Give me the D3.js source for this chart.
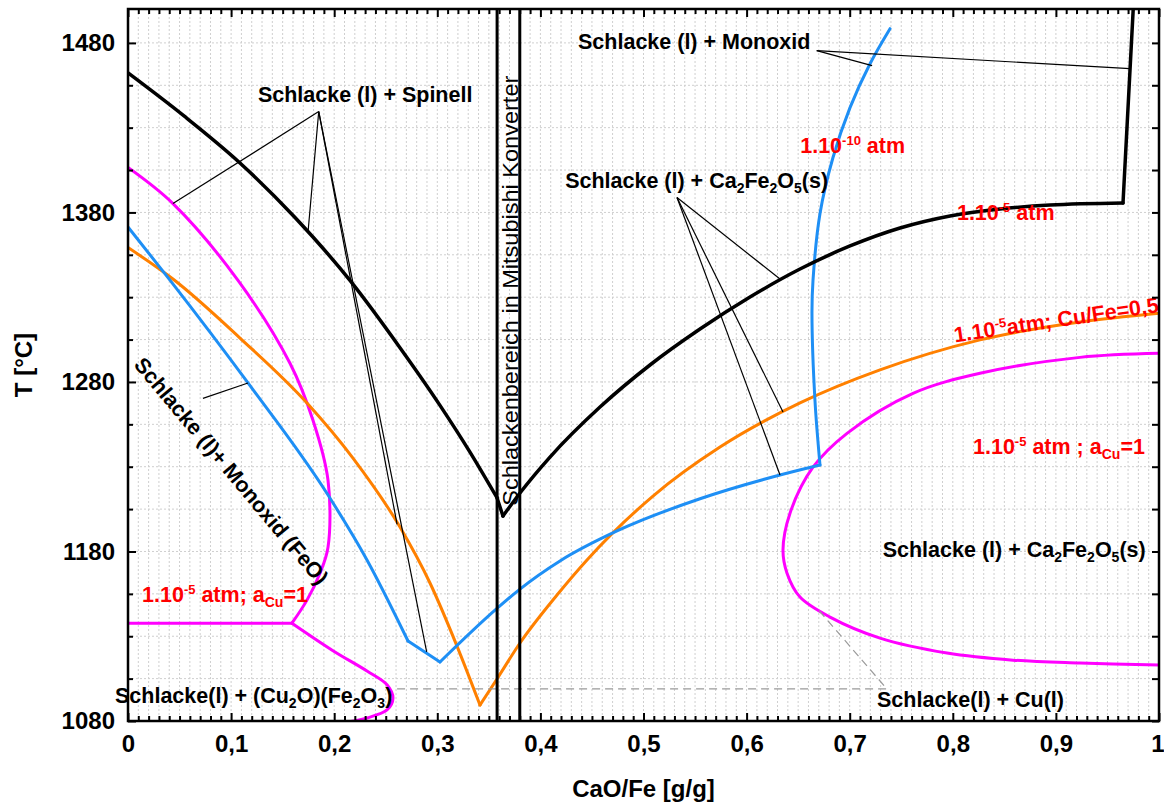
<!DOCTYPE html>
<html>
<head>
<meta charset="utf-8">
<script src="https://cdn.jsdelivr.net/npm/d3@7"></script>
<style>
  body { margin: 0; background: #fff; }
  svg { display: block; }
  text { font-family: "Liberation Sans", Arial, sans-serif; white-space: pre; }
</style>
</head>
<body>
<svg id="chart" width="1164" height="804"></svg>
<script>
// ---- Axis ticks ----
const xTickValues = [0, 0.1, 0.2, 0.3, 0.4, 0.5, 0.6, 0.7, 0.8, 0.9, 1];
const yTickValues = [1080, 1180, 1280, 1380, 1480];

// ---- Liquidus at pO2 = 1e-5 atm (black) : [CaO/Fe, T] ----
const liquidusLeft = [[0, 1462.3], [0.0543, 1436.9], [0.1086, 1409.2], [0.162, 1377], [0.2153, 1339.9],
  [0.2638, 1300.2], [0.3026, 1266.2], [0.3317, 1238.6], [0.3579, 1211.7]];
const liquidusCusp = [[0.3579, 1211.7], [0.3637, 1200.9]];
const liquidusRight = [[0.3637, 1200.9], [0.3802, 1214.5], [0.4093, 1235.7], [0.4578, 1265.2], [0.5063, 1290],
  [0.5548, 1311.2], [0.6033, 1330.1], [0.6518, 1346.6], [0.7003, 1360.2], [0.7488, 1370.8],
  [0.7973, 1377.9], [0.8458, 1382], [0.8943, 1384.4], [0.9651, 1385.6]];
const liquidusWall = [[0.9651, 1385.6], [0.975, 1500]];

// ---- Liquidus at pO2 = 1e-10 atm (blue) ----
const blueLeft = [[0, 1371.4], [0.0407, 1340.1], [0.1164, 1279.4], [0.194, 1213.3], [0.2318, 1175],
  [0.2716, 1127.2]];
const blueKink = [[0.2716, 1127.2], [0.3026, 1114.8]];
const blueRight = [[0.3026, 1114.8], [0.3579, 1146.4], [0.3802, 1157.8], [0.419, 1174.4], [0.4743, 1192.1],
  [0.5548, 1211.1], [0.6324, 1225.1], [0.6712, 1231]];
const blueUp = [[0.6712, 1231], [0.6663, 1269.2], [0.6634, 1320.4], [0.6644, 1339.9], [0.6712, 1379.4],
  [0.6838, 1412.4], [0.7003, 1441.8], [0.7197, 1467.7], [0.7391, 1488.4]];

// ---- Liquidus at 1e-5 atm, Cu/Fe = 0,5 (orange) ----
const orangeLeft = [[0, 1359.3], [0.0436, 1340.7], [0.1086, 1305.9], [0.1736, 1267.6], [0.2182, 1235.1],
  [0.2638, 1194.4], [0.2929, 1161.4], [0.3191, 1124.2], [0.3414, 1089.4]];
const orangeRight = [[0.3414, 1089.4], [0.3579, 1104.8], [0.3802, 1126], [0.4161, 1154.3], [0.4452, 1175],
  [0.5092, 1212.7], [0.5742, 1241.6], [0.6518, 1267.6], [0.7294, 1287.1], [0.8264, 1304.8],
  [0.9234, 1315.4], [1.0, 1320.6]];

// ---- Liquidus at 1e-5 atm, a(Cu) = 1 (magenta) ----
const magentaUpper = [[0, 1406.5], [0.0436, 1385.2], [0.1067, 1339.9], [0.1571, 1291], [0.1794, 1257.4],
  [0.194, 1222], [0.194, 1182.5], [0.1862, 1167.2], [0.1736, 1151.3], [0.159, 1137.7]];
const magentaFlat = [[0, 1137.7], [0.159, 1137.7]];
const magentaLobe = [[0.159, 1137.7], [0.1988, 1121.5], [0.2318, 1109.5], [0.2512, 1101.4], [0.257, 1093.5],
  [0.2512, 1086.5], [0.2318, 1081.8], [0.2134, 1079.4]];
const magentaRight = [[1.0, 1296.9], [0.9234, 1294.5], [0.8264, 1285.1], [0.7614, 1273.3], [0.6974, 1249.7],
  [0.6644, 1229.7], [0.6421, 1202.6], [0.6353, 1180.8], [0.6392, 1167.2], [0.6518, 1153.1], [0.6809, 1141.3],
  [0.7294, 1128.9], [0.7944, 1120.1], [0.8584, 1115.9], [0.9234, 1114.2], [1.0, 1113]];

// ---- Slag window of the Mitsubishi converter (CaO/Fe) ----
const slagWindow = [0.358, 0.38];

// ---- Leader lines: first point is the hub, the rest are targets ----
const leaderSpinell = [[0.185, 1439.5], [0.0436, 1385.2], [0.1746, 1368.3], [0.261, 1196], [0.2897, 1120.8]];
const leaderMonoxid = [[0.668, 1475.4], [0.7217, 1466.6], [0.9718, 1464.8]];
const leaderCa2Fe2O5 = [[0.5325, 1388.8], [0.6324, 1340.7], [0.6353, 1262.3], [0.6324, 1225.1]];
const leaderFeO = [[0.0727, 1270.3], [0.1164, 1279.4]];
const leaderCu = [[0.261, 1099], [0.736, 1099], [0.669, 1146]];

// ---- Layout ----
const plot = { left: 128, top: 9, right: 1159, bottom: 721 };
const svg = d3.select("#chart");

const x = d3.scaleLinear().domain([0, 1]).range([plot.left, plot.right]);
const y = d3.scaleLinear().domain([1080, 1500]).range([plot.bottom, plot.top]);

const minorX = d3.range(0, 101).map(i => i / 100).filter(v => Math.round(v * 100) % 10 !== 0);
const allY = d3.range(1080, 1501, 25);
const minorY = allY.filter(v => !yTickValues.includes(v));

svg.append("defs").append("clipPath").attr("id", "plotClip")
  .append("rect").attr("x", plot.left).attr("y", plot.top)
  .attr("width", plot.right - plot.left).attr("height", plot.bottom - plot.top);

// ---- Grid ----
const grid = svg.append("g").attr("stroke", "#cfcfcf").attr("stroke-width", 1).attr("stroke-dasharray", "2,2");
grid.selectAll("line.gx").data(d3.range(1, 100).map(i => i / 100)).join("line")
  .attr("x1", d => x(d)).attr("x2", d => x(d)).attr("y1", plot.top).attr("y2", plot.bottom);
grid.selectAll("line.gy").data(allY.filter(v => v > 1080 && v < 1500)).join("line")
  .attr("x1", plot.left).attr("x2", plot.right).attr("y1", d => y(d)).attr("y2", d => y(d));

// ---- Curves ----
const smooth = d3.line().x(d => x(d[0])).y(d => y(d[1])).curve(d3.curveMonotoneX);
const loop = d3.line().x(d => x(d[0])).y(d => y(d[1])).curve(d3.curveCatmullRom.alpha(0.5));
const straight = d3.line().x(d => x(d[0])).y(d => y(d[1]));
const curves = svg.append("g").attr("clip-path", "url(#plotClip)").attr("fill", "none")
  .attr("stroke-linecap", "round").attr("stroke-linejoin", "round");

function drawCurve(data, color, width, gen) {
  curves.append("path").attr("d", gen(data)).attr("stroke", color).attr("stroke-width", width);
}

const MAGENTA = "#ff00ff", ORANGE = "#ff8000", BLUE = "#1e8ff5", BLACK = "#000";
[magentaUpper, magentaLobe, magentaRight].forEach(s => drawCurve(s, MAGENTA, 3, loop));
drawCurve(magentaFlat, MAGENTA, 3, straight);
[orangeLeft, orangeRight].forEach(s => drawCurve(s, ORANGE, 3, smooth));
[blueLeft, blueRight].forEach(s => drawCurve(s, BLUE, 3, smooth));
drawCurve(blueUp, BLUE, 3, loop);
drawCurve(blueKink, BLUE, 3, straight);
[liquidusLeft, liquidusRight].forEach(s => drawCurve(s, BLACK, 3.5, smooth));
[liquidusCusp, liquidusWall].forEach(s => drawCurve(s, BLACK, 3.5, straight));

// ---- Leader lines ----
const leaders = svg.append("g").attr("stroke", "#000").attr("stroke-width", 1.2);
[leaderSpinell, leaderMonoxid, leaderCa2Fe2O5].forEach(set => {
  const hub = set[0];
  set.slice(1).forEach(t => {
    leaders.append("line").attr("x1", x(hub[0])).attr("y1", y(hub[1]))
      .attr("x2", x(t[0])).attr("y2", y(t[1]));
  });
});
leaders.append("path").attr("d", straight(leaderFeO)).attr("fill", "none");
svg.append("path").attr("d", straight(leaderCu)).attr("fill", "none")
  .attr("stroke", "#9a9a9a").attr("stroke-width", 1.2).attr("stroke-dasharray", "8,5");

// ---- Slag window lines ----
svg.append("g").selectAll("line").data(slagWindow).join("line")
  .attr("x1", d => x(d)).attr("x2", d => x(d)).attr("y1", plot.top).attr("y2", plot.bottom)
  .attr("stroke", "#000").attr("stroke-width", 3);
svg.append("text")
  .attr("transform", `translate(${x(slagWindow[1]) - 2},${y(1207)}) rotate(-90)`)
  .attr("font-size", 22).attr("textLength", 430).attr("lengthAdjust", "spacingAndGlyphs")
  .attr("fill", "#000").text("Schlackenbereich in Mitsubishi Konverter");

// ---- Annotations ----
function rich(textSel, parts, base) {
  let shift = 0;
  parts.forEach(([t, kind]) => {
    const target = kind === "sub" ? 5 : kind === "sup" ? -8 : 0;
    const size = kind === "sub" ? 14 : kind === "sup" ? 13 : base;
    textSel.append("tspan").attr("dy", target - shift).attr("font-size", size).text(t);
    shift = target;
  });
}
const RED = "#ff0000";
const ca2fe2o5 = [["Schlacke (l) + Ca"], ["2", "sub"], ["Fe"], ["2", "sub"], ["O"], ["5", "sub"], ["(s)"]];
const annotations = [
  { at: [0.126, 1445.4], parts: [["Schlacke (l) + Spinell"]], fill: "#000" },
  { at: [0.4365, 1476.6], parts: [["Schlacke (l) + Monoxid"]], fill: "#000" },
  { at: [0.424, 1394.7], parts: ca2fe2o5, fill: "#000" },
  { at: [0.732, 1176.6], parts: ca2fe2o5, fill: "#000" },
  { at: [-0.0126, 1090.6], parts: [["Schlacke(l) + (Cu"], ["2", "sub"], ["O)(Fe"], ["2", "sub"], ["O"], ["3", "sub"], [")"]], fill: "#000" },
  { at: [0.7265, 1088], parts: [["Schlacke(l) + Cu(l)"]], fill: "#000" },
  { at: [0.00485, 1289.8], parts: [["Schlacke (l)+ Monoxid (FeO)"]], fill: "#000", rotate: 50 },
  { at: [0.652, 1415], parts: [["1.10"], ["-10", "sup"], [" atm"]], fill: RED },
  { at: [0.804, 1375.5], parts: [["1.10"], ["-5", "sup"], [" atm"]], fill: RED },
  { at: [0.8196, 1237.5], parts: [["1.10"], ["-5", "sup"], [" atm ; a"], ["Cu", "sub"], ["=1"]], fill: RED },
  { at: [0.0136, 1150], parts: [["1.10"], ["-5", "sup"], [" atm; a"], ["Cu", "sub"], ["=1"]], fill: RED },
  { at: [0.8021, 1303.3], parts: [["1.10"], ["-5", "sup"], ["atm; Cu/Fe=0,5"]], fill: RED, rotate: -8.5 },
];
const annG = svg.append("g").attr("font-weight", "bold");
annotations.forEach(a => {
  const t = annG.append("text")
    .attr("transform", `translate(${x(a.at[0])},${y(a.at[1])})` + (a.rotate ? ` rotate(${a.rotate})` : ""))
    .attr("fill", a.fill).attr("font-size", 21.5);
  rich(t, a.parts, 21.5);
});

// ---- Axes ----
const fmt = d => (d === 0 || d === 1) ? String(d) : d.toFixed(1).replace(".", ",");
function styleAxis(g) {
  g.select(".domain").remove();
  g.selectAll(".tick line").attr("stroke", "#000").attr("stroke-width", 2);
  g.selectAll("text").attr("font-size", 24).attr("font-weight", "bold").attr("fill", "#000")
    .attr("font-family", "Liberation Sans, Arial, sans-serif");
}
const xAxisG = svg.append("g").attr("transform", `translate(0,${plot.bottom})`)
  .call(d3.axisBottom(x).tickValues(xTickValues).tickSize(-8).tickPadding(14).tickFormat(fmt)).call(styleAxis);
// keep the last label inside the canvas
xAxisG.selectAll(".tick text").filter(d => d === 1).attr("text-anchor", "end").attr("x", 5);
svg.append("g").attr("transform", `translate(0,${plot.bottom})`)
  .call(d3.axisBottom(x).tickValues(minorX).tickSize(-5).tickFormat("")).call(styleAxis);
svg.append("g").attr("transform", `translate(0,${plot.top})`)
  .call(d3.axisTop(x).tickValues(xTickValues).tickSize(-8).tickFormat("")).call(styleAxis);
svg.append("g").attr("transform", `translate(0,${plot.top})`)
  .call(d3.axisTop(x).tickValues(minorX).tickSize(-5).tickFormat("")).call(styleAxis);
svg.append("g").attr("transform", `translate(${plot.left},0)`)
  .call(d3.axisLeft(y).tickValues(yTickValues).tickSize(-8).tickPadding(13).tickFormat(d3.format("d"))).call(styleAxis);
svg.append("g").attr("transform", `translate(${plot.left},0)`)
  .call(d3.axisLeft(y).tickValues(minorY).tickSize(-5).tickFormat("")).call(styleAxis);
svg.append("g").attr("transform", `translate(${plot.right},0)`)
  .call(d3.axisRight(y).tickValues(allY).tickSize(-7).tickFormat("")).call(styleAxis);

// frame
svg.append("rect").attr("x", plot.left).attr("y", plot.top)
  .attr("width", plot.right - plot.left).attr("height", plot.bottom - plot.top)
  .attr("fill", "none").attr("stroke", "#000").attr("stroke-width", 2.5);

// axis titles
svg.append("text").attr("x", (plot.left + plot.right) / 2).attr("y", 797)
  .attr("text-anchor", "middle").attr("font-size", 24).attr("font-weight", "bold").text("CaO/Fe [g/g]");
svg.append("text").attr("transform", `translate(32,${(plot.top + plot.bottom) / 2}) rotate(-90)`)
  .attr("text-anchor", "middle").attr("font-size", 24).attr("font-weight", "bold").text("T [°C]");
</script>
</body>
</html>
